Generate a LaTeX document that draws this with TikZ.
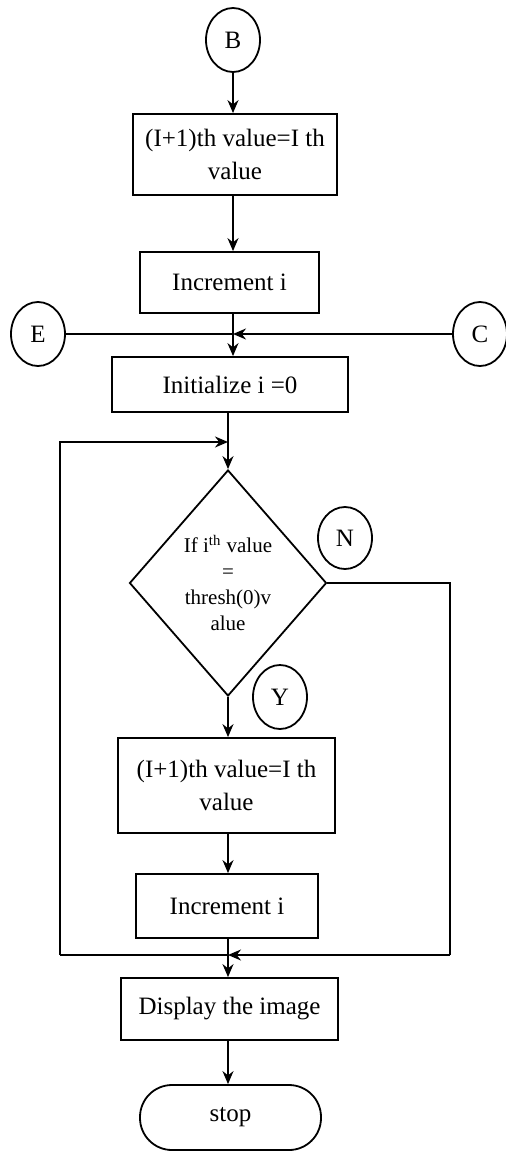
\documentclass[tikz,border=0pt]{standalone}
\usepackage{fontspec}
\setmainfont{Liberation Serif}
\usetikzlibrary{shapes.geometric,arrows.meta}
\begin{document}
\begin{tikzpicture}[x=0.5pt,y=-0.5pt,
  line width=0.9pt,
  every node/.style={font=\fontsize{12.5}{16.5}\selectfont, align=center, inner sep=0pt},
  proc/.style={draw, rectangle},
  conn/.style={draw, ellipse, minimum width=27pt, minimum height=32pt},
  decide/.style={draw, diamond, aspect=0.87, minimum width=98.5pt, minimum height=113pt,
    font=\fontsize{10.5}{13}\selectfont},
  term/.style={draw, rectangle, rounded corners=16pt},
  arr/.style={-{Stealth[length=6.5pt,width=5.5pt]}}]
\useasboundingbox (0,0) rectangle (506,1151);

% upper column
\node[conn] (B) at (233,40) {B};
\node[proc, minimum width=102pt, minimum height=40.5pt] (box1) at (235,154.5) {(I+1)th value=I th\\value};
\node[proc, minimum width=89.5pt, minimum height=30.5pt] (inc1) at (229.5,282.5) {Increment i};
\node[conn] (E) at (38,334) {E};
\node[conn] (C) at (480,334) {C};
\coordinate (J1) at (233,334);
\node[proc, minimum width=118pt, minimum height=27.5pt] (init) at (230,384.5) {Initialize i =0};

% decision loop
\coordinate (L1) at (228,442);
\node[decide] (dec) at (228,583) {If i\textsuperscript{th} value\\=\\thresh(0)v\\alue};
\node[conn, minimum height=31pt] (N) at (345,538) {N};
\node[conn] (Y) at (280,697) {Y};
\node[proc, minimum width=108.5pt, minimum height=47.5pt] (box3) at (226.5,785.5) {(I+1)th value=I th\\value};
\node[proc, minimum width=91pt, minimum height=32pt] (inc2) at (227,906) {Increment i};
\coordinate (J2) at (228,955);
\coordinate (R1) at (450,583);
\coordinate (R2) at (450,955);
\coordinate (Q1) at (60,955);
\coordinate (Q2) at (60,442);
\node[proc, minimum width=108.5pt, minimum height=31pt] (disp) at (229.5,1009) {Display the image};
\node[term, minimum width=90.5pt, minimum height=32.5pt] (stop) at (230.5,1117.5) {stop};

% connectors
\draw[arr] (B) -- (B |- box1.north);
\draw[arr] (box1.south -| B) -- (inc1.north -| B);
\draw (E) -- (J1);
\draw[arr] (C) -- (J1);
\draw[arr] (inc1.south -| B) -- (init.north -| B);
\draw[arr] (init.south -| dec) -- (dec.north);
\draw[arr] (Q1) -- (Q2) -- (L1);
\draw (dec.east) -- (R1) -- (R2);
\draw[arr] (R2) -- (J2);
\draw[arr] (dec.south) -- (box3.north -| dec);
\draw[arr] (box3.south -| dec) -- (inc2.north -| dec);
\draw (inc2.south -| dec) -- (J2) -- (Q1);
\draw[arr] (J2) -- (disp.north -| dec);
\draw[arr] (disp.south -| dec) -- (stop.north -| dec);
\end{tikzpicture}
\end{document}
